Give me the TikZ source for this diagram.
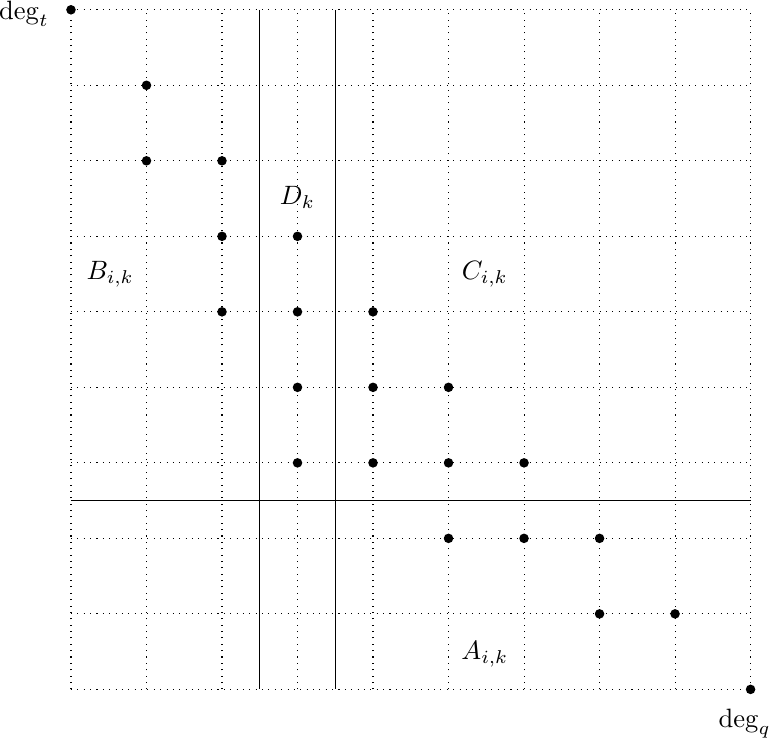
\documentclass[tikz,border=0pt]{standalone}
\usepackage{tikz}
\usetikzlibrary{positioning}
\tikzset{
  gr line/.style={dotted, line width=0.4pt},
  gr cut/.style={line width=0.5pt},
  gr pt/.style={circle, inner sep=0pt, minimum size=3.6pt, fill=black},
  gr label/.style={font=\normalsize},
}

\begin{document}
\begin{tikzpicture}
  \useasboundingbox (-0.94,-0.81) rectangle (9.35,9.13);
  \draw[gr line] (0,0) grid (9,9);

  % points
  \foreach \x/\y in {0/9,1/8,1/7,2/7,2/6,3/6,2/5,3/5,4/5,3/4,4/4,5/4,
                     3/3,4/3,5/3,6/3,5/2,6/2,7/2,7/1,8/1,9/0}
    \node[gr pt] (p\x\y) at (\x,\y) {};

  % cuts
  \coordinate (v1t) at (2.5,9);
  \coordinate (v1b) at (2.5,0);
  \coordinate (v2t) at (3.5,9);
  \coordinate (v2b) at (3.5,0);
  \coordinate (hl) at (0,2.5);
  \coordinate (hr) at (9,2.5);
  \draw[gr cut] (v1t) -- (v1b);
  \draw[gr cut] (v2t) -- (v2b);
  \draw[gr cut] (hl) -- (hr);

  % labels
  \node[gr label,left=1mm of p09,yshift=-0.5mm] (degt) {$\deg_t$};
  \node[gr label] (degq) at (8.92,-0.45) {$\deg_q$};
  \node[gr label] (B) at (0.52,5.5) {$B_{i,k}$};
  \node[gr label] (D) at (3,6.52) {$D_k$};
  \node[gr label] (C) at (5.48,5.5) {$C_{i,k}$};
  \node[gr label] (A) at (5.48,0.46) {$A_{i,k}$};
\end{tikzpicture}
\end{document}
